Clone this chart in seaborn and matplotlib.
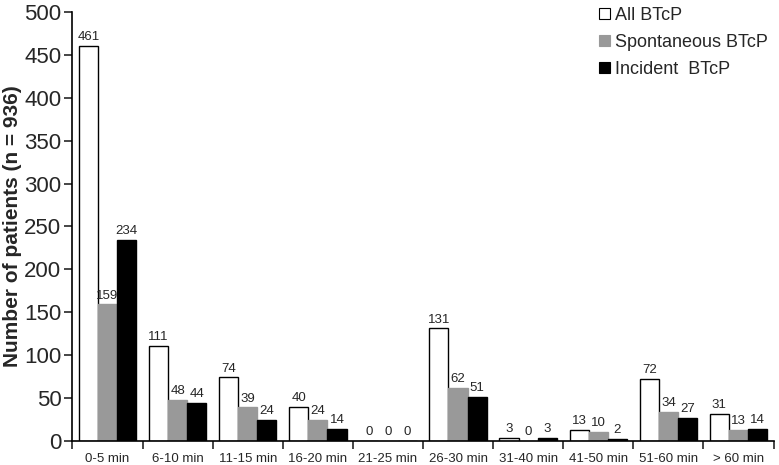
import numpy as np
import pandas as pd
import matplotlib
matplotlib.use("Agg")
import matplotlib.pyplot as plt
import seaborn as sns

# data
categories = ["0-5 min", "6-10 min", "11-15 min", "16-20 min", "21-25 min",
              "26-30 min", "31-40 min", "41-50 min", "51-60 min", "> 60 min"]
series_names = ["All BTcP", "Spontaneous BTcP", "Incident  BTcP"]
all_btcp = [461, 111, 74, 40, 0, 131, 3, 13, 72, 31]
spontaneous_btcp = [159, 48, 39, 24, 0, 62, 0, 10, 34, 13]
incident_btcp = [234, 44, 24, 14, 0, 51, 3, 2, 27, 14]

df = pd.DataFrame({
    "category": categories * 3,
    "series": [s for s in series_names for _ in categories],
    "value": all_btcp + spontaneous_btcp + incident_btcp,
})

sns.set_theme(style="ticks")
plt.rcParams["font.family"] = ["Liberation Sans", "DejaVu Sans"]

fig = plt.figure(figsize=(7.79, 4.65), dpi=100)
ax = fig.add_axes([0.093, 0.052, 0.90, 0.922])

palette = {"All BTcP": "white", "Spontaneous BTcP": "#999999", "Incident  BTcP": "black"}
sns.barplot(data=df, x="category", y="value", hue="series", order=categories,
            hue_order=series_names, palette=palette, width=0.82, saturation=1,
            ax=ax, legend=True)

edge_cols = ["black", "#999999", "black"]
for cont, ec in zip(ax.containers, edge_cols):
    for bar in cont:
        bar.set_edgecolor(ec)
        bar.set_linewidth(1.0)
    ax.bar_label(cont, labels=[f"{int(b.get_height())}" for b in cont],
                 fontsize=9.5, padding=2)

ax.set_xlim(-0.5, len(categories) - 0.5)
ax.set_ylim(0, 500)
ax.set_yticks(np.arange(0, 501, 50))
ax.tick_params(axis="y", labelsize=16, length=6, width=1.2, direction="out", pad=2)
ax.set_xticks(np.arange(len(categories)))
ax.set_xticklabels(categories, fontsize=9.5)
ax.tick_params(axis="x", which="major", length=0, pad=9)
ax.set_xticks(np.arange(-0.5, len(categories), 1), minor=True)
ax.tick_params(axis="x", which="minor", length=6, width=1.2, direction="out")

ax.set_xlabel("")
ax.set_ylabel("Number of patients (n = 936)", fontsize=15, fontweight="bold")
ax.yaxis.set_label_coords(-0.072, 0.5)
sns.despine(ax=ax)
for sp in ["left", "bottom"]:
    ax.spines[sp].set_linewidth(1.2)
    ax.spines[sp].set_color("black")

leg = ax.legend(loc="upper right", bbox_to_anchor=(1.015, 1.05), frameon=False,
                fontsize=13, handlelength=0.6, handleheight=0.6,
                handletextpad=0.3, labelspacing=0.55)
for h, ec in zip(leg.legend_handles, edge_cols):
    h.set_edgecolor(ec)
    h.set_linewidth(0.8)

fig.savefig("out.png", dpi=100)
plt.close(fig)
